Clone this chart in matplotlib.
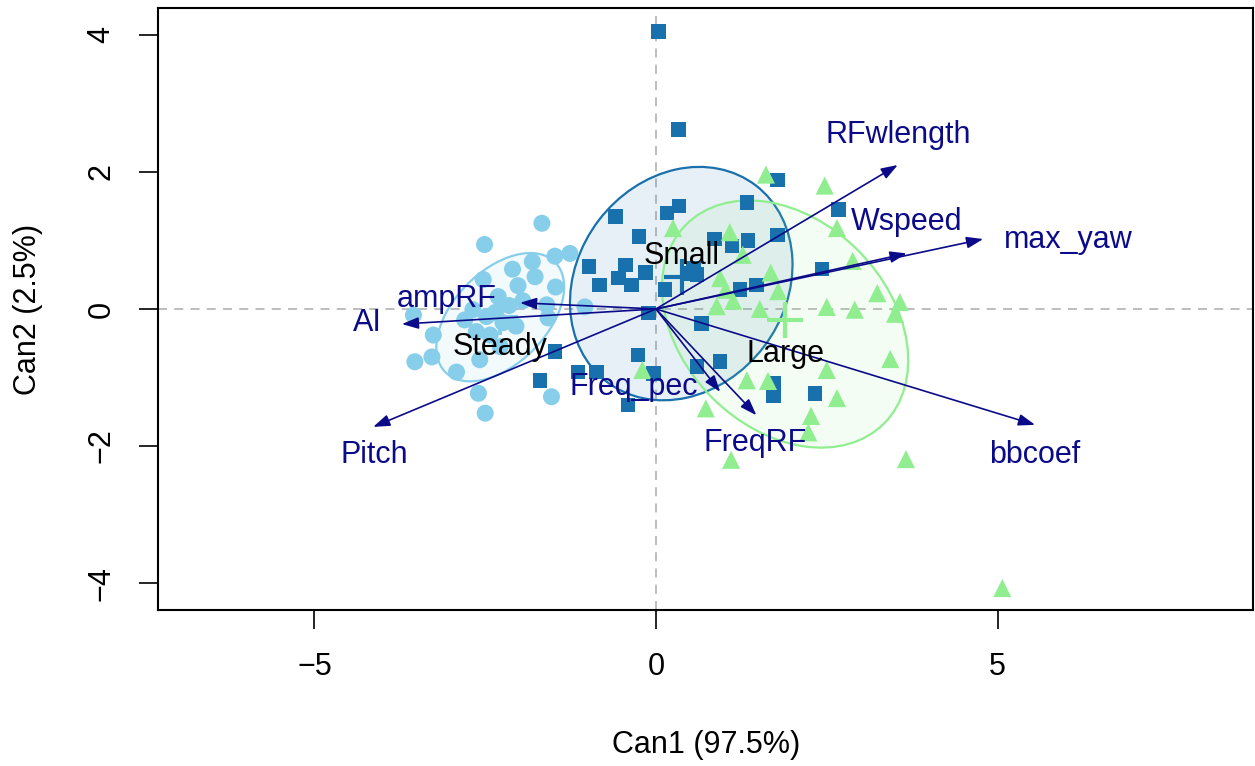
"""Canonical discriminant plot: group scores, data ellipses and variable vectors."""

import matplotlib
matplotlib.use("Agg")
import matplotlib.pyplot as plt
from matplotlib.patches import Ellipse

plt.rcParams['font.family'] = ['Liberation Sans', 'DejaVu Sans']

# canonical scores per group
steady_x = [-1.67, -2.51, -1.48, -1.26, -1.81, -2.10, -1.77, -2.53, -2.02, -1.47,
            -2.31, -1.60, -2.68, -3.55, -2.80, -2.48, -2.24, -1.58, -3.26, -2.63,
            -2.43, -2.28, -3.53, -3.28, -2.58, -2.92, -2.60, -2.50, -1.53, -1.04,
            -1.95, -2.15, -2.05, -2.35]
steady_y = [1.25, 0.94, 0.77, 0.81, 0.69, 0.58, 0.47, 0.43, 0.34, 0.32,
            0.18, 0.06, -0.01, -0.09, -0.16, -0.11, -0.20, -0.13, -0.38, -0.33,
            -0.38, -0.55, -0.77, -0.70, -0.74, -0.92, -1.23, -1.52, -1.28, 0.03,
            0.12, 0.05, -0.25, -0.05]

small_x = [0.04, 0.33, 1.78, -0.59, 0.34, 0.16, 1.33, 2.67, -0.25, 0.86,
           1.11, 1.35, 1.78, -0.98, -0.45, -0.55, -0.36, -0.15, -0.83, 0.13,
           0.60, 1.23, 1.47, 2.43, -0.11, 0.67, -0.26, 0.94, 0.60, -0.04,
           -1.48, -1.14, -0.87, 1.72, 1.72, 2.33, -0.41, -1.70, 0.50, 0.55]
small_y = [4.05, 2.62, 1.88, 1.35, 1.50, 1.40, 1.55, 1.45, 1.06, 1.02,
           0.92, 1.00, 1.08, 0.62, 0.64, 0.45, 0.35, 0.53, 0.35, 0.28,
           0.50, 0.28, 0.35, 0.58, -0.06, -0.21, -0.67, -0.77, -0.84, -0.94,
           -0.62, -0.92, -0.92, -1.08, -1.26, -1.23, -1.40, -1.04, 0.52, 0.60]

large_x = [1.61, 2.47, 0.25, 1.08, 2.65, 2.88, 0.94, 1.27, 1.68, 1.79,
           1.13, 0.89, 1.52, 2.50, 2.91, 3.24, 3.57, 3.50, 3.43, 2.50,
           1.33, 2.65, 2.27, 0.73, 1.10, 3.66, 2.23, 5.07, -0.20, 1.02, 1.64]
large_y = [1.96, 1.80, 1.18, 1.12, 1.18, 0.70, 0.45, 0.79, 0.53, 0.26,
           0.12, 0.04, 0.00, 0.03, -0.01, 0.23, 0.10, -0.07, -0.73, -0.89,
           -1.04, -1.30, -1.56, -1.45, -2.20, -2.19, -1.80, -4.07, -0.89, 0.28, -1.05]

group_names = ["Steady", "Small", "Large"]
group_colors = ["#87CEEB", "#1870AC", "#90EE90"]
group_markers = ["o", "s", "^"]
group_sizes = [150, 110, 170]

# group means and 68% data ellipses
mean_x = [-2.28, 0.38, 1.89]
mean_y = [-0.12, 0.47, -0.16]
ell_cx = [-2.28, 0.37, 1.89]
ell_cy = [-0.12, 0.37, -0.22]
ell_w = [2.27, 3.60, 4.10]
ell_h = [1.36, 3.04, 3.03]
ell_angle = [45, 52.6, -45]
glabel_x = [-2.28, 0.38, 1.89]
glabel_y = [-0.56, 0.77, -0.66]

# structure vectors
var_names = ["RFwlength", "Wspeed", "max_yaw", "bbcoef", "FreqRF",
             "Freq_pec", "Pitch", "AI", "ampRF"]
var_x = [3.54, 3.67, 4.79, 5.55, 1.47, 0.94, -4.14, -3.72, -1.99]
var_y = [2.10, 0.81, 1.02, -1.69, -1.55, -1.21, -1.72, -0.22, 0.09]
vlabel_x = [3.55, 3.67, 6.03, 5.55, 1.45, -0.32, -4.13, -4.23, -3.06]
vlabel_y = [2.54, 1.27, 1.01, -2.13, -1.96, -1.14, -2.13, -0.20, 0.15]

vec_color = "#0B0B8A"
FS = 22

fig = plt.figure(figsize=(12.55, 7.66), dpi=100)
ax = fig.add_axes([0.1259, 0.2037, 0.8725, 0.7859])

ax.axhline(0, color="#B8B8B8", lw=1.3, ls=(0, (5, 4)), zorder=1)
ax.axvline(0, color="#B8B8B8", lw=1.3, ls=(0, (5, 4)), zorder=1)

for i in range(3):
    ax.add_patch(Ellipse((ell_cx[i], ell_cy[i]), ell_w[i], ell_h[i], angle=ell_angle[i],
                         facecolor=group_colors[i], alpha=0.1, edgecolor="none", zorder=2))
    ax.add_patch(Ellipse((ell_cx[i], ell_cy[i]), ell_w[i], ell_h[i], angle=ell_angle[i],
                         facecolor="none", edgecolor=group_colors[i], lw=1.6, zorder=2))

groups = [(steady_x, steady_y), (small_x, small_y), (large_x, large_y)]
for i, (gx, gy) in enumerate(groups):
    ax.scatter(gx, gy, s=group_sizes[i], marker=group_markers[i], color=group_colors[i],
               edgecolors="none", zorder=3)

for i in range(3):
    ax.plot(mean_x[i], mean_y[i], marker="+", ms=26, mew=3, color=group_colors[i], zorder=4)

for i, name in enumerate(var_names):
    ax.annotate("", xy=(var_x[i], var_y[i]), xytext=(0, 0),
                arrowprops=dict(arrowstyle="-|>,head_length=1.0,head_width=0.35",
                                color=vec_color, lw=1.2, shrinkA=0, shrinkB=0), zorder=5)
    ax.text(vlabel_x[i], vlabel_y[i], name, color=vec_color, fontsize=FS,
            ha="center", va="center", zorder=6)

for i, name in enumerate(group_names):
    ax.text(glabel_x[i], glabel_y[i], name, color="black", fontsize=FS,
            ha="center", va="center", zorder=6)

ax.set_xlim(-7.29, 8.74)
ax.set_ylim(-4.39, 4.39)
ax.set_xticks([-5, 0, 5])
ax.set_yticks([-4, -2, 0, 2, 4])
ax.set_xticklabels(["\u22125", "0", "5"])
ax.set_yticklabels(["\u22124", "\u22122", "0", "2", "4"])
ax.tick_params(length=14, width=1.2, labelsize=FS, pad=16)
for lab in ax.get_yticklabels():
    lab.set_rotation(90)
    lab.set_va("center")

for sp in ax.spines.values():
    sp.set_linewidth(1.5)

fig.text(706 / 1255, 1 - 745 / 766, "Can1 (97.5%)", fontsize=FS, ha="center", va="center")
fig.text(28 / 1255, 1 - 309 / 766, "Can2 (2.5%)", fontsize=FS, ha="center", va="center",
         rotation=90)

fig.savefig("out.png", dpi=100, facecolor="white")
plt.close(fig)
